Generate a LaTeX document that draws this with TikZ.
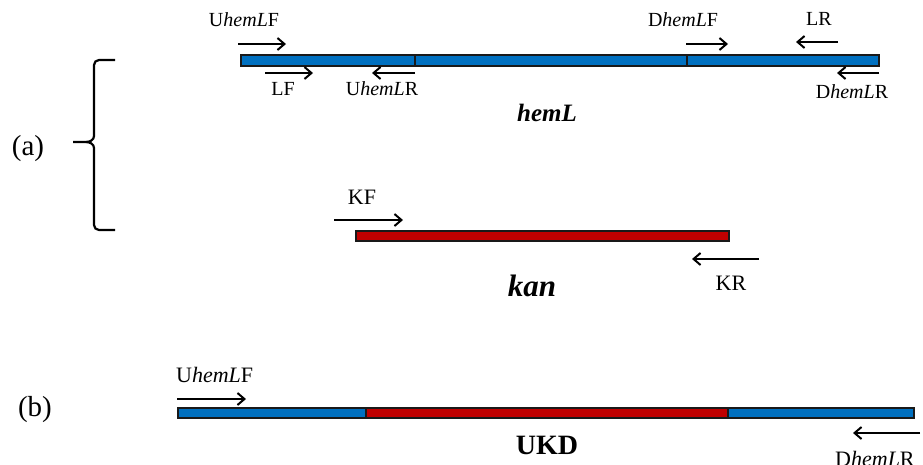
\documentclass[tikz,border=0pt]{standalone}
\usepackage{fontspec}
\setmainfont{Liberation Serif}
\usetikzlibrary{arrows.meta}
\definecolor{geneblue}{RGB}{0,112,192}
\definecolor{kanred}{RGB}{192,0,0}
\begin{document}
\begin{tikzpicture}[x=1pt,y=-1pt,
  seg/.style={draw=black!90,line width=1.5pt},
  primer/.style={line width=2pt,-{Straight Barb[length=7pt,width=12pt,line width=2pt]}},
  lbl/.style={inner sep=0pt,font=\fontsize{20}{20}\selectfont},
  lblb/.style={inner sep=0pt,font=\fontsize{22}{22}\selectfont},
  big/.style={inner sep=0pt,font=\fontsize{29}{29}\selectfont},
  gname/.style={inner sep=0pt,font=\fontsize{25}{25}\selectfont\bfseries\itshape}]
\path[use as bounding box] (0,0) rectangle (923,464);

% ---- (a) hemL locus ----
\node[seg,fill=geneblue,minimum width=174pt,minimum height=11pt,inner sep=0pt,anchor=north west] (u1) at (240,54) {};
\node[seg,fill=geneblue,minimum width=272pt,minimum height=11pt,inner sep=0pt,anchor=north west] (m1) at (414,54) {};
\node[seg,fill=geneblue,minimum width=192pt,minimum height=11pt,inner sep=0pt,anchor=north west] (d1) at (686,54) {};

\coordinate (p1s) at (238,44); \coordinate (p1e) at (286,44);
\draw[primer] (p1s) -- (p1e);
\node[lbl] (t1) at (244,20) {U\textit{hemL}F};

\coordinate (p2s) at (265,73); \coordinate (p2e) at (313,73);
\draw[primer] (p2s) -- (p2e);
\node[lbl] (t2) at (283,89) {LF};

\coordinate (p3s) at (415,73); \coordinate (p3e) at (372,73);
\draw[primer] (p3s) -- (p3e);
\node[lbl] (t3) at (382,89) {U\textit{hemL}R};

\coordinate (p4s) at (686,44); \coordinate (p4e) at (728,44);
\draw[primer] (p4s) -- (p4e);
\node[lbl] (t4) at (683,20) {D\textit{hemL}F};

\coordinate (p5s) at (838,42); \coordinate (p5e) at (796,42);
\draw[primer] (p5s) -- (p5e);
\node[lbl] (t5) at (819,19) {LR};

\coordinate (p6s) at (879,73); \coordinate (p6e) at (837,73);
\draw[primer] (p6s) -- (p6e);
\node[lbl] (t6) at (852,92) {D\textit{hemL}R};

\node[gname] (g1) at (547,113) {hemL};

% bracket grouping part (a)
\draw[line width=2.2pt,line join=round] (115,60) -- (99,60) to[out=180,in=90] (94,65) -- (94,136)
  to[out=-90,in=0] (86,142) -- (73,142);
\draw[line width=2.2pt,line join=round] (86,142) to[out=0,in=90] (94,148) -- (94,225)
  to[out=-90,in=180] (99,230) -- (115,230);
\node[big] (la) at (28,149) {(a)};

% ---- kan cassette ----
\node[seg,fill=kanred,minimum width=373pt,minimum height=10pt,inner sep=0pt,anchor=north west] (k1) at (355,230) {};

\coordinate (p7s) at (334,220); \coordinate (p7e) at (403,220);
\draw[primer] (p7s) -- (p7e);
\node[lblb] (t7) at (362,197) {KF};

\coordinate (p8s) at (759,259); \coordinate (p8e) at (692,259);
\draw[primer] (p8s) -- (p8e);
\node[lblb] (t8) at (731,283) {KR};

\node[gname,font=\fontsize{31}{31}\selectfont\bfseries\itshape] (g2) at (532,286) {kan};

% ---- (b) UKD construct ----
\node[seg,fill=geneblue,minimum width=188pt,minimum height=10pt,inner sep=0pt,anchor=north west] (u2) at (177,407) {};
\node[seg,fill=kanred,minimum width=362pt,minimum height=10pt,inner sep=0pt,anchor=north west] (k2) at (365,407) {};
\node[seg,fill=geneblue,minimum width=186pt,minimum height=10pt,inner sep=0pt,anchor=north west] (d2) at (727,407) {};

\coordinate (p9s) at (177,399); \coordinate (p9e) at (246,399);
\draw[primer] (p9s) -- (p9e);
\node[lblb,anchor=west] (t9) at (176,375) {U\textit{hemL}F};

\coordinate (p10s) at (920,433); \coordinate (p10e) at (853,433);
\draw[primer] (p10s) -- (p10e);
\node[lblb,anchor=west] (t10) at (835,459) {D\textit{hemL}R};

\node[big,font=\fontsize{28}{28}\selectfont\bfseries] (g3) at (547,445) {UKD};
\node[big] (lb) at (35,410) {(b)};
\end{tikzpicture}
\end{document}
